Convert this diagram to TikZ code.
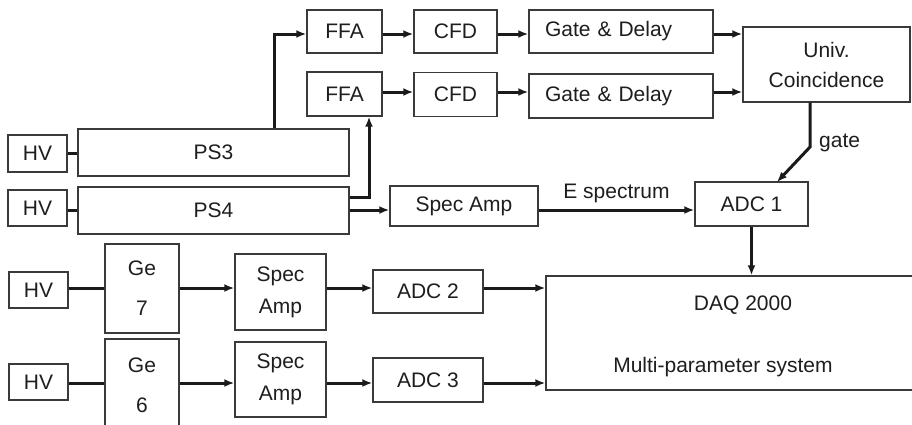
\documentclass[tikz,border=0pt]{standalone}
\usepackage{fontspec}
\setmainfont{Liberation Sans}
\usetikzlibrary{arrows.meta,positioning,calc}
\usepackage{xcolor}
\definecolor{edge}{HTML}{3A3A3A}
\definecolor{ink}{HTML}{1E1E1E}
\definecolor{wire}{HTML}{1A1A1A}

\begin{document}
\begin{tikzpicture}[x=1pt, y=-1pt,
  box/.style={draw=edge, fill=white, line width=1.4pt, inner sep=0pt, align=center, text=ink, font=\fontsize{21}{24}\selectfont},
  lbl/.style={text=ink, inner sep=0pt, font=\fontsize{21}{24}\selectfont},
  arr/.style={-{Latex[length=10pt, width=8pt]}, wire, line width=3pt},
  lnk/.style={wire, line width=3pt}
]
\useasboundingbox (0,0) rectangle (912,424);

% PS3 / PS4 timing branch
\node[box, minimum width=59pt, minimum height=37pt] (hva) at (37.5,153.5) {HV};
\node[box, minimum width=271pt, minimum height=47pt] (ps3) at (213.5,152.5) {PS3};
\node[box, minimum width=59pt, minimum height=36pt] (hvb) at (37.5,208) {HV};
\node[box, minimum width=271pt, minimum height=47pt] (ps4) at (213.5,210.5) {PS4};

\node[box, minimum width=75pt, minimum height=43pt] (ffaa) at (344.5,31.5) {FFA};
\node[box, minimum width=83pt, minimum height=43pt] (cfda) at (455.5,31.5) {CFD};
\node[box, minimum width=184pt, minimum height=43pt, text width=152pt, align=left] (gda) at (621,31.5) {Gate \& Delay};
\node[box, minimum width=75pt, minimum height=44pt] (ffab) at (344.5,94) {FFA};
\node[box, minimum width=83pt, minimum height=44pt] (cfdb) at (455.5,94.5) {CFD};
\node[box, minimum width=184pt, minimum height=44pt, text width=152pt, align=left] (gdb) at (621,96) {Gate \& Delay};
\node[box, minimum width=167pt, minimum height=75pt] (univ) at (826.5,64.5) {Univ.\\[6pt]Coincidence};

\node[box, minimum width=148pt, minimum height=40pt] (speca) at (464,206) {Spec Amp};
\node[box, minimum width=113pt, minimum height=44pt] (adca) at (751.5,204) {ADC 1};

% Ge branches
\node[box, minimum width=59pt, minimum height=36pt] (hvc) at (38.5,290) {HV};
\node[box, minimum width=74pt, minimum height=89pt] (gea) at (142,288.5) {Ge\\[16pt]7};
\node[box, minimum width=91pt, minimum height=76pt] (specb) at (280.5,292) {Spec\\[8pt]Amp};
\node[box, minimum width=110pt, minimum height=43pt] (adcb) at (428,291.5) {ADC 2};

\node[box, minimum width=59pt, minimum height=36pt] (hvd) at (38.5,382) {HV};
\node[box, minimum width=74pt, minimum height=93pt] (geb) at (142,385.5) {Ge\\[16pt]6};
\node[box, minimum width=91pt, minimum height=75pt] (specc) at (280.5,379.5) {Spec\\[8pt]Amp};
\node[box, minimum width=110pt, minimum height=44pt] (adcc) at (428,380) {ADC 3};

\node[box, minimum width=372pt, minimum height=114pt] (daq) at (732,333) {};
\node[lbl] (daqt) at (743,305) {DAQ 2000};
\node[lbl] (daqs) at (723,367) {Multi-parameter system};

\coordinate (upa) at (274,34);
\coordinate (tap) at (369,197);
\coordinate (bend) at (810,147);
\coordinate (gatein) at (777,182);

% connectors
\draw[lnk] (hva) -- (ps3.west |- hva);
\draw[lnk] (hvb.east |- 0,210) -- (ps4.west |- 0,210);
\draw[arr] (ps3.north -| upa) -- (upa) -- (ffaa.west |- upa);
\draw[arr] (ffaa.east |- upa) -- (cfda.west |- upa);
\draw[arr] (cfda.east |- upa) -- (gda.west |- upa);
\draw[arr] (gda.east |- upa) -- (univ.west |- upa);
\draw[arr] (ffab.east |- 0,92) -- (cfdb.west |- 0,92);
\draw[arr] (cfdb.east |- 0,92) -- (gdb.west |- 0,92);
\draw[arr] (gdb.east |- 0,92) -- (univ.west |- 0,92);
\draw[arr] (ps4.east |- tap) -| (tap |- ffab.south);
\draw[arr] (ps4.east |- 0,210) -- (speca.west |- 0,210);
\draw[arr] (speca.east |- 0,210) -- node[lbl, above=6pt] (espec) {E spectrum} (adca.west |- 0,210);
\draw[arr] (univ.south -| bend) -- (bend) -- (gatein);
\node[lbl, right=9pt of bend, yshift=4pt] (gatel) {gate};
\draw[arr] (adca.south) -- (adca.south |- daq.north);

\draw[lnk] (hvc.east |- 0,288) -- (gea.west |- 0,288);
\draw[arr] (gea.east |- 0,288) -- (specb.west |- 0,288);
\draw[arr] (specb.east |- 0,288) -- (adcb.west |- 0,288);
\draw[arr] (adcb.east |- 0,288) -- (daq.west |- 0,288);
\draw[lnk] (hvd.east |- 0,383) -- (geb.west |- 0,383);
\draw[arr] (geb.east |- 0,383) -- (specc.west |- 0,383);
\draw[arr] (specc.east |- 0,383) -- (adcc.west |- 0,383);
\draw[arr] (adcc.east |- 0,383) -- (daq.west |- 0,383);
\end{tikzpicture}
\end{document}
